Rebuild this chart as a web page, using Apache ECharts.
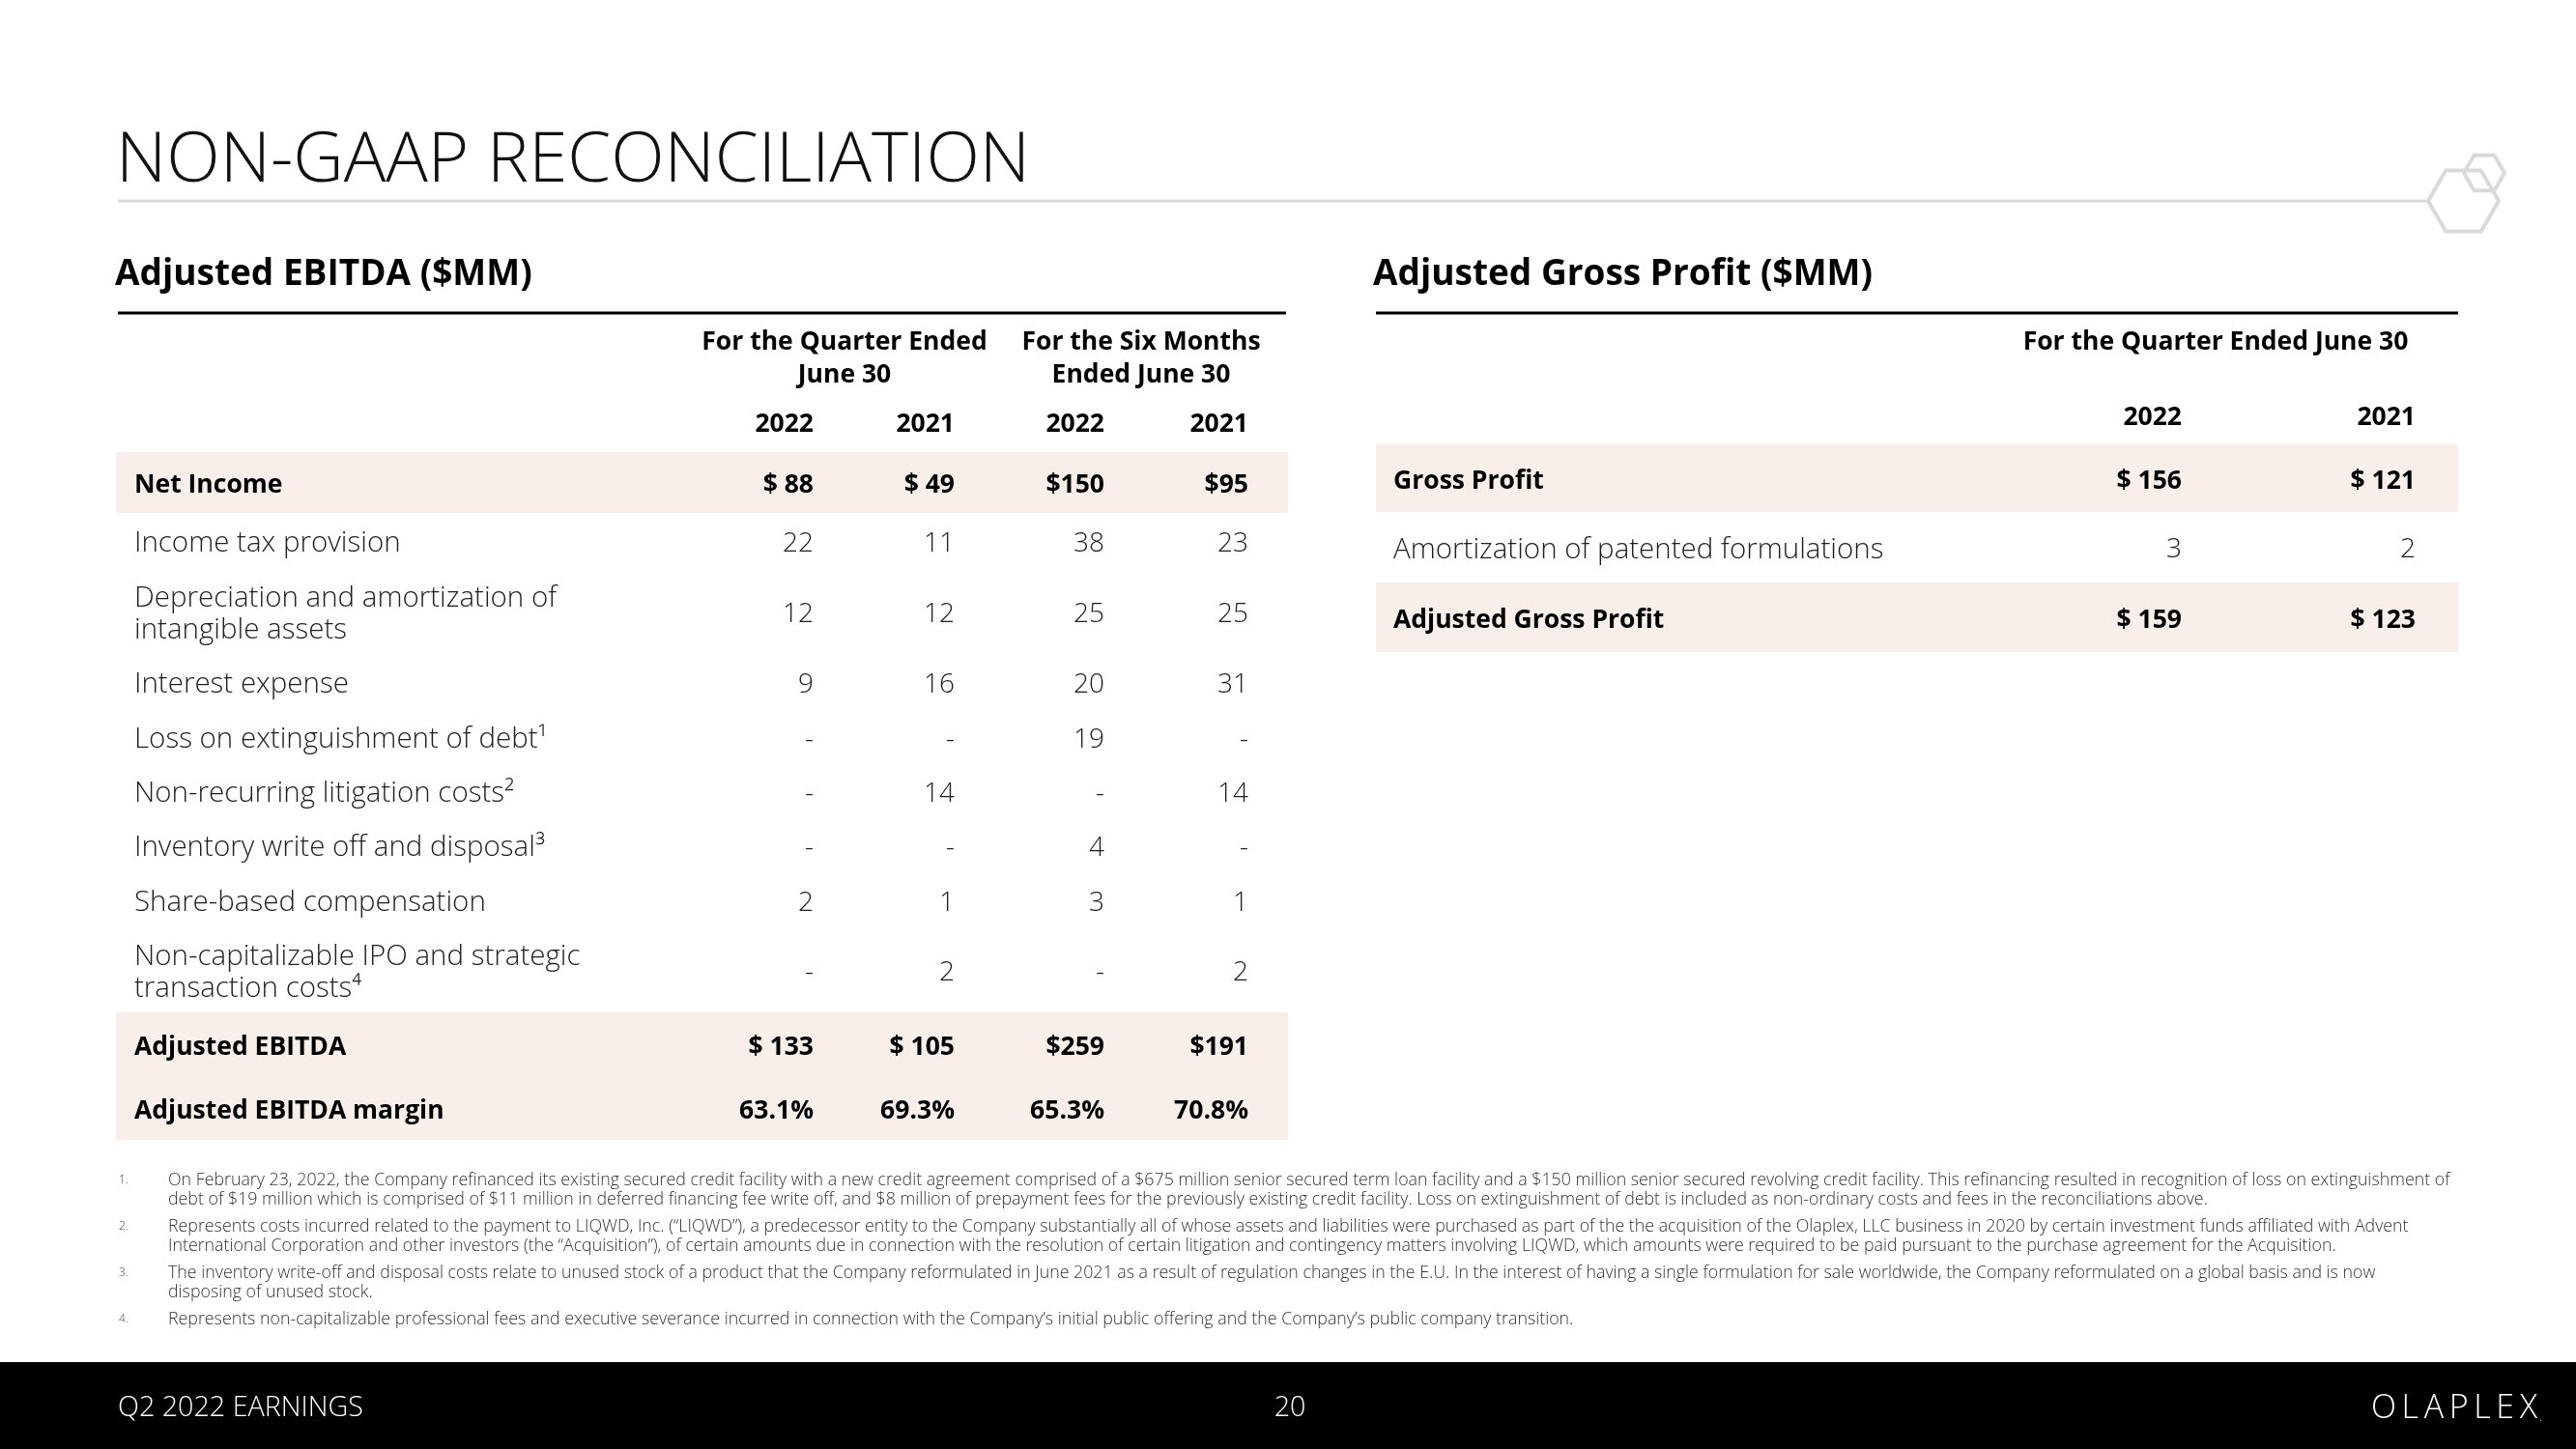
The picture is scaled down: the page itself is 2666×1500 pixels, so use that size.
<!DOCTYPE html>
<html>
<head>
<meta charset="utf-8">
<title>Non-GAAP Reconciliation</title>
<script src="https://cdn.jsdelivr.net/npm/echarts@6.0.0/dist/echarts.min.js"></script>
<style>
  html, body { margin: 0; padding: 0; background: #fff; }
  #chart { width: 2666px; height: 1500px; }
</style>
</head>
<body>
<div id="chart"></div>
<script>
// Adjusted EBITDA ($MM)
const ebitdaRows = [
  "Net Income",
  "Income tax provision",
  "Depreciation and amortization of\nintangible assets",
  "Interest expense",
  "Loss on extinguishment of debt\u00b9",
  "Non-recurring litigation costs\u00b2",
  "Inventory write off and disposal\u00b3",
  "Share-based compensation",
  "Non-capitalizable IPO and strategic\ntransaction costs\u2074",
  "Adjusted EBITDA",
  "Adjusted EBITDA margin"
];
const ebitdaQ2022 = [88, 22, 12, 9, null, null, null, 2, null, 133, 63.1];
const ebitdaQ2021 = [49, 11, 12, 16, null, 14, null, 1, 2, 105, 69.3];
const ebitdaH2022 = [150, 38, 25, 20, 19, null, 4, 3, null, 259, 65.3];
const ebitdaH2021 = [95, 23, 25, 31, null, 14, null, 1, 2, 191, 70.8];
const ebitdaYears = ["2022", "2021", "2022", "2021"];
const ebitdaPeriods = ["For the Quarter Ended\nJune 30", "For the Six Months\nEnded June 30"];

// Adjusted Gross Profit ($MM)
const gpRows = ["Gross Profit", "Amortization of patented formulations", "Adjusted Gross Profit"];
const gp2022 = [156, 3, 159];
const gp2021 = [121, 2, 123];
const gpYears = ["2022", "2021"];
const gpPeriod = "For the Quarter Ended June 30";

const footnotes = [
  ["On February 23, 2022, the Company refinanced its existing secured credit facility with a new credit agreement comprised of a $675 million senior secured term loan facility and a $150 million senior secured revolving credit facility. This refinancing resulted in recognition of loss on extinguishment of",
   "debt of $19 million which is comprised of $11 million in deferred financing fee write off, and $8 million of prepayment fees for the previously existing credit facility. Loss on extinguishment of debt is included as non-ordinary costs and fees in the reconciliations above."],
  ["Represents costs incurred related to the payment to LIQWD, Inc. (\u201cLIQWD\u201d), a predecessor entity to the Company substantially all of whose assets and liabilities were purchased as part of the the acquisition of the Olaplex, LLC business in 2020 by certain investment funds affiliated with Advent",
   "International Corporation and other investors (the \u201cAcquisition\u201d), of certain amounts due in connection with the resolution of certain litigation and contingency matters involving LIQWD, which amounts were required to be paid pursuant to the purchase agreement for the Acquisition."],
  ["The inventory write-off and disposal costs relate to unused stock of a product that the Company reformulated in June 2021 as a result of regulation changes in the E.U. In the interest of having a single formulation for sale worldwide, the Company reformulated on a global basis and is now",
   "disposing of unused stock."],
  ["Represents non-capitalizable professional fees and executive severance incurred in connection with the Company\u2019s initial public offering and the Company\u2019s public company transition."]
];

// layout
const FONT = '"Open Sans", "DejaVu Sans", sans-serif';
const BAND = "#f8efea";
const INK = "#000000";
const BODY = "#1e1e1e";
const DY = 3; // canvas 'middle' sits a little above the cap centre

const ebitdaLayout = {
  left: 120, top: 468, width: 1213,
  rowH: [63, 58, 88, 58, 56, 56, 56, 58, 87, 66, 66],
  colRight: [722, 868, 1023, 1172],
  pad: 19,
  boldRows: [0, 9, 10],
  bandRows: [0, 9, 10]
};
const gpLayout = {
  left: 1424, top: 460, width: 1120,
  rowH: [70, 73, 72],
  colRight: [834, 1076],
  pad: 18,
  boldRows: [0, 2],
  bandRows: [0, 2]
};

const sum = a => a.reduce((s, v) => s + v, 0);

function money(prefix, dollarRows, pctRows) {
  return (v, i) => {
    if (v == null) return "-";
    if (pctRows.includes(i)) return v.toFixed(1) + "%";
    if (dollarRows.includes(i)) return prefix + v;
    return String(v);
  };
}

function tableSeries(idx, rows, cols, L) {
  const tops = [];
  let acc = 0;
  L.rowH.forEach(h => { tops.push(acc); acc += h; });
  return {
    type: "custom",
    xAxisIndex: idx,
    yAxisIndex: idx,
    silent: true,
    data: rows.map((r, i) => [0, tops[i]]),
    renderItem: (params, api) => {
      const i = params.dataIndex;
      const p0 = api.coord([0, tops[i]]);
      const p1 = api.coord([L.width, tops[i] + L.rowH[i]]);
      const cy = (p0[1] + p1[1]) / 2 + DY;
      const bold = L.boldRows.includes(i);
      const children = [];
      if (L.bandRows.includes(i)) {
        children.push({
          type: "rect",
          shape: { x: p0[0], y: p0[1], width: p1[0] - p0[0], height: p1[1] - p0[1] },
          style: { fill: BAND }
        });
      }
      children.push({
        type: "text",
        style: {
          text: rows[i], x: p0[0] + L.pad, y: cy,
          align: "left", verticalAlign: "middle", lineHeight: 33,
          fontFamily: FONT, fontSize: bold ? 26.5 : 29.5, fontWeight: bold ? "bold" : 300,
          fill: bold ? INK : BODY
        }
      });
      cols.forEach((col, c) => {
        const px = api.coord([L.colRight[c], tops[i]])[0];
        children.push({
          type: "text",
          style: {
            text: col.fmt(col.values[i], i), x: px, y: cy,
            align: "right", verticalAlign: "middle",
            fontFamily: FONT, fontSize: bold ? 26.5 : 28, fontWeight: bold ? "bold" : 300,
            fill: bold ? INK : BODY
          }
        });
      });
      return { type: "group", children };
    }
  };
}

function txt(text, x, y, o) {
  return {
    type: "text", silent: true,
    style: Object.assign({
      text, x, y: y + DY, align: "left", verticalAlign: "middle",
      fontFamily: FONT, fontSize: 26, fontWeight: "bold", fill: INK
    }, o || {})
  };
}

function hexagon(cx, cy, r) {
  const pts = [];
  for (let k = 0; k < 6; k++) {
    const a = Math.PI / 3 * k;
    pts.push([cx + r * Math.cos(a), cy + r * Math.sin(a)]);
  }
  return {
    type: "polygon", silent: true,
    shape: { points: pts },
    style: { fill: null, stroke: "#d9d9d9", lineWidth: 4, lineJoin: "round" }
  };
}

const graphics = [
  txt("NON-GAAP RECONCILIATION", 120, 164, { fontSize: 72.5, fontWeight: 300, fill: "#111" }),
  { type: "rect", silent: true, shape: { x: 122, y: 206.5, width: 2391, height: 3 }, style: { fill: "#d9d9d9" } },
  hexagon(2549.5, 208, 36.5),
  hexagon(2571, 179, 21),

  txt("Adjusted EBITDA ($MM)", 119, 281, { fontSize: 37 }),
  txt("Adjusted Gross Profit ($MM)", 1421, 281, { fontSize: 37 }),
  { type: "rect", silent: true, shape: { x: 122, y: 322.5, width: 1209, height: 3 }, style: { fill: INK } },
  { type: "rect", silent: true, shape: { x: 1424, y: 322.5, width: 1120, height: 3 }, style: { fill: INK } },

  txt(ebitdaPeriods[0], 874, 368, { align: "center", fontSize: 26.5, lineHeight: 34 }),
  txt(ebitdaPeriods[1], 1181, 368, { align: "center", fontSize: 26.5, lineHeight: 34 }),
  txt(gpPeriod, 2293, 351, { align: "center", fontSize: 26.5 })
];
ebitdaYears.forEach((y, c) => {
  graphics.push(txt(y, ebitdaLayout.left + ebitdaLayout.colRight[c], 436, { align: "right", fontSize: 26.5 }));
});
gpYears.forEach((y, c) => {
  graphics.push(txt(y, gpLayout.left + gpLayout.colRight[c], 429, { align: "right", fontSize: 26.5 }));
});

const noteStarts = [1219, 1267, 1315, 1363];
footnotes.forEach((lines, n) => {
  graphics.push(txt((n + 1) + ".", 123, noteStarts[n], { fontSize: 12, fontWeight: 300, fill: "#444" }));
  lines.forEach((line, k) => {
    graphics.push(txt(line, 174, noteStarts[n] + k * 19.5, { fontSize: 17.8, fontWeight: 300, fill: "#333" }));
  });
});

graphics.push(
  { type: "rect", silent: true, shape: { x: 0, y: 1410, width: 2666, height: 90 }, style: { fill: "#000" } },
  txt("Q2 2022 EARNINGS", 122, 1455, { fontSize: 28.7, fontWeight: 300, fill: "#fff" }),
  txt("20", 1335, 1455, { align: "center", fontSize: 28.7, fontWeight: 300, fill: "#fff" }),
  txt("O\u2009L\u2009A\u2009P\u2009L\u2009E\u2009X", 2626, 1455, { align: "right", fontSize: 34, fontWeight: 300, fill: "#fff" }),
  txt(".", 2628, 1465, { fontSize: 12, fontWeight: 300, fill: "#fff" })
);

const chart = echarts.init(document.getElementById("chart"), null, { renderer: "canvas" });
chart.setOption({
  animation: false,
  backgroundColor: "#ffffff",
  grid: [
    { left: ebitdaLayout.left, top: ebitdaLayout.top, width: ebitdaLayout.width, height: sum(ebitdaLayout.rowH) },
    { left: gpLayout.left, top: gpLayout.top, width: gpLayout.width, height: sum(gpLayout.rowH) }
  ],
  xAxis: [
    { gridIndex: 0, type: "value", min: 0, max: ebitdaLayout.width, show: false },
    { gridIndex: 1, type: "value", min: 0, max: gpLayout.width, show: false }
  ],
  yAxis: [
    { gridIndex: 0, type: "value", min: 0, max: sum(ebitdaLayout.rowH), inverse: true, show: false },
    { gridIndex: 1, type: "value", min: 0, max: sum(gpLayout.rowH), inverse: true, show: false }
  ],
  series: [
    tableSeries(0, ebitdaRows, [
      { values: ebitdaQ2022, fmt: money("$ ", [0, 9], [10]) },
      { values: ebitdaQ2021, fmt: money("$ ", [0, 9], [10]) },
      { values: ebitdaH2022, fmt: money("$", [0, 9], [10]) },
      { values: ebitdaH2021, fmt: money("$", [0, 9], [10]) }
    ], ebitdaLayout),
    tableSeries(1, gpRows, [
      { values: gp2022, fmt: money("$ ", [0, 2], []) },
      { values: gp2021, fmt: money("$ ", [0, 2], []) }
    ], gpLayout)
  ],
  graphic: graphics
});
</script>
</body>
</html>
